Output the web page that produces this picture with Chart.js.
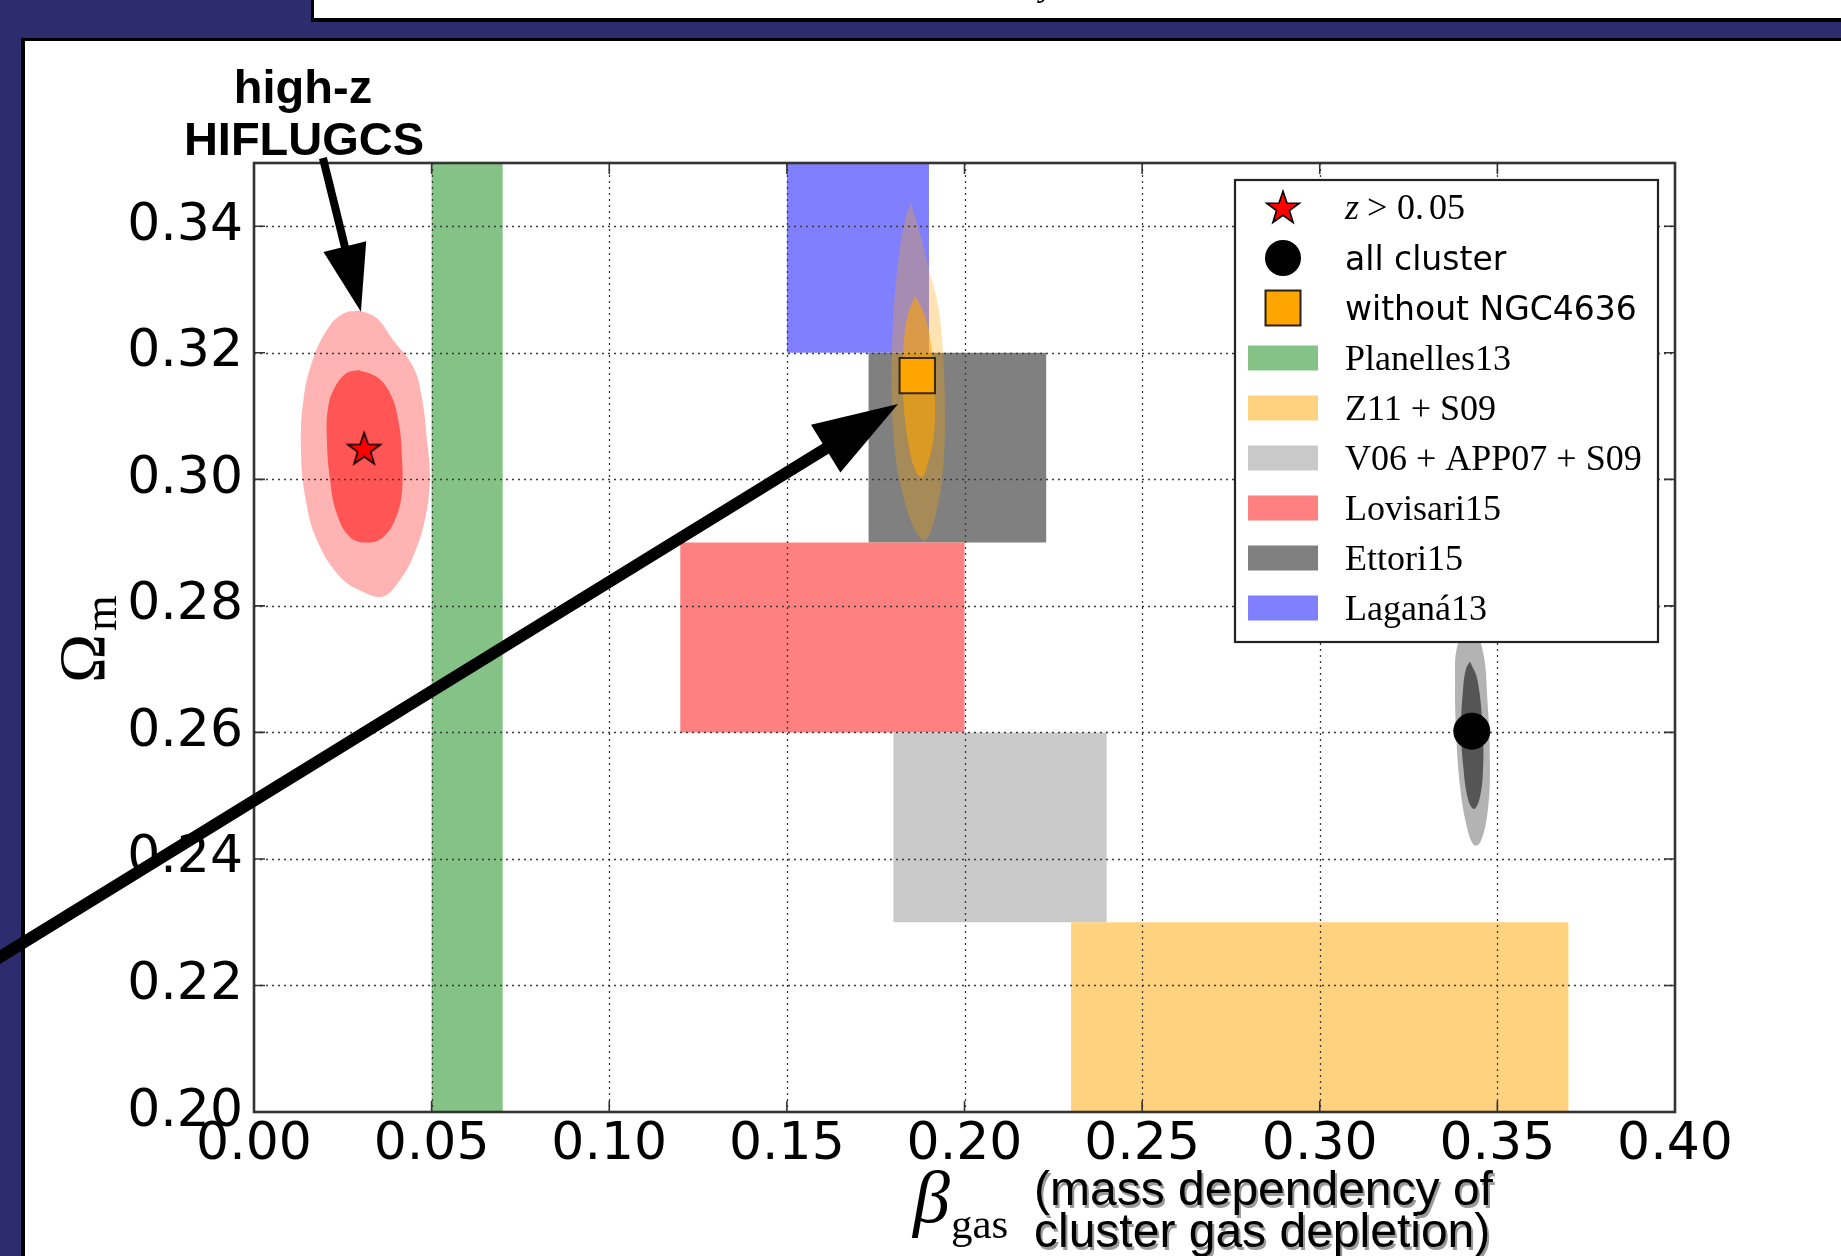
<!DOCTYPE html>
<html>
<head>
<meta charset="utf-8">
<script src="https://cdn.jsdelivr.net/npm/chart.js@4"></script>
<style>
    body { margin: 0; background: #2d2c6e; }
    canvas { display: block; }
</style>
</head>
<body>
<canvas id="omegaChart" width="1841" height="1256"></canvas>
<script>
// axis ranges and ticks
const betaRange = [0.0, 0.40];
const omegaRange = [0.20, 0.35];
const betaTicks = [0.00, 0.05, 0.10, 0.15, 0.20, 0.25, 0.30, 0.35, 0.40];
const omegaTicks = [0.20, 0.22, 0.24, 0.26, 0.28, 0.30, 0.32, 0.34];

// literature constraints (beta range, omega range)
const bandNames = ['Planelles13', 'Z11 + S09', 'V06 + APP07 + S09', 'Lovisari15', 'Ettori15', 'Laganá13'];
const bandBeta = [[0.05, 0.07], [0.23, 0.37], [0.18, 0.24], [0.12, 0.20], [0.173, 0.223], [0.15, 0.19]];
const bandOmega = [[0.20, 0.35], [0.20, 0.23], [0.23, 0.26], [0.26, 0.29], [0.29, 0.32], [0.32, 0.35]];
const bandColors = ['#85c285', '#ffd280', '#c9c9c9', '#ff8080', '#808080', '#8080ff'];

// best fit points
const pointNames = ['z > 0.05', 'all cluster', 'without NGC4636'];
const pointBeta = [0.0310, 0.3428, 0.1867];
const pointOmega = [0.3049, 0.2602, 0.3164];

// confidence contours, [beta, omega]
const highzOuter = [[0.0298, 0.3267], [0.0345, 0.3255], [0.0392, 0.3220], [0.0448, 0.3178], [0.0472, 0.3131],
    [0.0486, 0.3067], [0.0495, 0.2999], [0.0481, 0.2936], [0.0448, 0.2878], [0.0411, 0.2841], [0.0364, 0.2815],
    [0.0308, 0.2822], [0.0242, 0.2846], [0.0177, 0.2904], [0.0144, 0.2973], [0.0132, 0.3052], [0.0139, 0.3125],
    [0.0162, 0.3183], [0.0205, 0.3236], [0.0251, 0.3262]];
const highzInner = [[0.0294, 0.3173], [0.0345, 0.3162], [0.0383, 0.3136], [0.0406, 0.3094], [0.0416, 0.3041],
    [0.0416, 0.2978], [0.0397, 0.2936], [0.0364, 0.2909], [0.0322, 0.2900], [0.0270, 0.2909], [0.0233, 0.2946],
    [0.0214, 0.2999], [0.0205, 0.3067], [0.0209, 0.3115], [0.0228, 0.3146], [0.0261, 0.3168]];
const noNgcOuter = [[0.1849, 0.3436], [0.1875, 0.3389], [0.1903, 0.3326], [0.1926, 0.3273], [0.1939, 0.3204],
    [0.1945, 0.3099], [0.1940, 0.3020], [0.1922, 0.2952], [0.1889, 0.2904], [0.1861, 0.2920], [0.1828, 0.2973],
    [0.1804, 0.3046], [0.1795, 0.3152], [0.1800, 0.3257], [0.1814, 0.3347], [0.1833, 0.3410]];
const noNgcInner = [[0.1861, 0.3290], [0.1889, 0.3257], [0.1908, 0.3204], [0.1917, 0.3125], [0.1912, 0.3062],
    [0.1894, 0.3020], [0.1880, 0.3003], [0.1861, 0.3015], [0.1842, 0.3057], [0.1828, 0.3125], [0.1828, 0.3204],
    [0.1839, 0.3257]];
const allOuter = [[0.3420, 0.2770], [0.3456, 0.2736], [0.3472, 0.2651], [0.3479, 0.2546], [0.3472, 0.2472],
    [0.3451, 0.2425], [0.3434, 0.2422], [0.3414, 0.2451], [0.3395, 0.2514], [0.3384, 0.2599], [0.3381, 0.2678],
    [0.3387, 0.2736]];
const allInner = [[0.3423, 0.2712], [0.3444, 0.2683], [0.3459, 0.2599], [0.3459, 0.2535], [0.3449, 0.2493],
    [0.3434, 0.2479], [0.3418, 0.2493], [0.3404, 0.2546], [0.3398, 0.2609], [0.3404, 0.2672], [0.3412, 0.2701]];

// annotation arrows in data coordinates (tail, tip)
const arrowHighz = [[0.0194, 0.3508], [0.0301, 0.3265]];
const arrowNoNgc = [[-0.075, 0.2233], [0.1813, 0.3119]];

const SERIF = '"Liberation Serif", "DejaVu Serif", serif';
const SANS = '"DejaVu Sans", sans-serif';
const ARIAL = '"Liberation Sans", Arial, sans-serif';

function makeStar(size) {
    const c = document.createElement('canvas');
    c.width = size;
    c.height = size;
    const g = c.getContext('2d');
    const m = size / 2;
    g.beginPath();
    for (let i = 0; i < 10; i++) {
        const r = i % 2 === 0 ? size * 0.43 : size * 0.17;
        const a = -Math.PI / 2 + i * Math.PI / 5;
        g.lineTo(m + r * Math.cos(a), m + 1.5 + r * Math.sin(a));
    }
    g.closePath();
    g.fillStyle = '#ff0000';
    g.fill();
    g.lineWidth = 1.6;
    g.strokeStyle = '#000';
    g.stroke();
    return c;
}

const starImg = makeStar(40);

function closedShape(pts) {
    return pts.concat([pts[0]]).map(p => ({ x: p[0], y: p[1] }));
}

function shapeDataset(pts, color, order, tension) {
    return {
        data: closedShape(pts),
        showLine: true,
        fill: 'shape',
        backgroundColor: color,
        borderColor: 'transparent',
        borderWidth: 0,
        pointRadius: 0,
        tension: tension,
        order: order
    };
}

const datasets = [];

// markers first so they sit on top
datasets.push({
    label: pointNames[0], marker: true,
    data: [{ x: pointBeta[0], y: pointOmega[0] }],
    pointStyle: starImg, pointRadius: 20, order: 0
});
datasets.push({
    label: pointNames[1], marker: true,
    data: [{ x: pointBeta[1], y: pointOmega[1] }],
    pointStyle: 'circle', pointRadius: 18, backgroundColor: '#000', borderColor: '#000', borderWidth: 1, order: 0
});
datasets.push({
    label: pointNames[2], marker: true,
    data: [{ x: pointBeta[2], y: pointOmega[2] }],
    pointStyle: 'rect', pointRadius: 25, backgroundColor: '#ffa500', borderColor: 'rgba(0,0,0,0.75)', borderWidth: 2, order: 0
});

// contours
datasets.push(shapeDataset(highzInner, '#ff5555', 2, 0.4));
datasets.push(shapeDataset(highzOuter, '#ffb3b3', 3, 0.4));
datasets.push(shapeDataset(noNgcInner, 'rgba(255,165,0,0.6)', 2, 0.4));
datasets.push(shapeDataset(noNgcOuter, 'rgba(255,165,0,0.3)', 3, 0.4));
datasets.push(shapeDataset(allInner, '#555555', 2, 0.4));
datasets.push(shapeDataset(allOuter, '#b3b3b3', 3, 0.4));

// literature bands
bandNames.forEach((name, i) => {
    const b = bandBeta[i];
    const o = bandOmega[i];
    const ds = shapeDataset([[b[0], o[0]], [b[1], o[0]], [b[1], o[1]], [b[0], o[1]]], bandColors[i], 4, 0);
    ds.label = name;
    datasets.push(ds);
});

let gridDone = false;

function drawGrid(chart) {
    const ctx = chart.ctx;
    const ca = chart.chartArea;
    const xs = chart.scales.x;
    const ys = chart.scales.y;
    ctx.save();
    ctx.strokeStyle = '#3a3a3a';
    ctx.lineWidth = 1.3;
    ctx.setLineDash([2, 4]);
    betaTicks.slice(1, -1).forEach(v => {
        const px = Math.round(xs.getPixelForValue(v)) + 0.5;
        ctx.beginPath();
        ctx.moveTo(px, ca.top);
        ctx.lineTo(px, ca.bottom);
        ctx.stroke();
    });
    omegaTicks.slice(1).forEach(v => {
        const py = Math.round(ys.getPixelForValue(v)) + 0.5;
        ctx.beginPath();
        ctx.moveTo(ca.left, py);
        ctx.lineTo(ca.right, py);
        ctx.stroke();
    });
    ctx.restore();
}

function drawFrame(chart) {
    const ctx = chart.ctx;
    const ca = chart.chartArea;
    const xs = chart.scales.x;
    const ys = chart.scales.y;
    ctx.save();
    ctx.strokeStyle = '#333';
    ctx.lineWidth = 1.6;
    const tl = 11;
    betaTicks.forEach(v => {
        const px = xs.getPixelForValue(v);
        ctx.beginPath();
        ctx.moveTo(px, ca.bottom); ctx.lineTo(px, ca.bottom - tl);
        ctx.moveTo(px, ca.top); ctx.lineTo(px, ca.top + tl);
        ctx.stroke();
    });
    omegaTicks.forEach(v => {
        const py = ys.getPixelForValue(v);
        ctx.beginPath();
        ctx.moveTo(ca.left, py); ctx.lineTo(ca.left + tl, py);
        ctx.moveTo(ca.right, py); ctx.lineTo(ca.right - tl, py);
        ctx.stroke();
    });
    ctx.lineWidth = 2.6;
    ctx.strokeRect(ca.left, ca.top, ca.right - ca.left, ca.bottom - ca.top);
    ctx.restore();
}

function drawLegend(chart) {
    const ctx = chart.ctx;
    const ca = chart.chartArea;
    const box = { x: ca.right - 440, y: ca.top + 17, w: 423, h: 462 };
    ctx.save();
    ctx.fillStyle = '#fff';
    ctx.fillRect(box.x, box.y, box.w, box.h);
    ctx.strokeStyle = '#222';
    ctx.lineWidth = 2.2;
    ctx.strokeRect(box.x, box.y, box.w, box.h);

    const mx = box.x + 48;
    const tx = box.x + 110;
    ctx.textBaseline = 'alphabetic';
    ctx.fillStyle = '#000';

    // rows: three markers then the six bands
    for (let i = 0; i < 9; i++) {
        const cy = box.y + 28 + i * 50;
        if (i === 0) {
            ctx.drawImage(starImg, mx - 20, cy - 21);
            ctx.fillStyle = '#000';
            ctx.font = 'italic 36px ' + SERIF;
            ctx.fillText('z', tx, cy + 11);
            ctx.font = '36px ' + SERIF;
            ctx.fillText('>', tx + 22, cy + 11);
            ctx.fillText('0.', tx + 52, cy + 11);
            ctx.fillText('05', tx + 84, cy + 11);
        } else if (i === 1) {
            ctx.beginPath();
            ctx.arc(mx, cy, 18, 0, Math.PI * 2);
            ctx.fillStyle = '#000';
            ctx.fill();
            ctx.font = '33px ' + SANS;
            ctx.fillText(pointNames[1], tx, cy + 12);
        } else if (i === 2) {
            ctx.fillStyle = '#ffa500';
            ctx.fillRect(mx - 17.5, cy - 17.5, 35, 35);
            ctx.strokeStyle = 'rgba(0,0,0,0.85)';
            ctx.lineWidth = 2;
            ctx.strokeRect(mx - 17.5, cy - 17.5, 35, 35);
            ctx.fillStyle = '#000';
            ctx.font = '33px ' + SANS;
            ctx.fillText(pointNames[2], tx, cy + 12);
        } else {
            const k = i - 3;
            ctx.fillStyle = bandColors[k];
            ctx.fillRect(box.x + 13, cy - 12.5, 70, 25);
            ctx.fillStyle = '#000';
            ctx.font = '36px ' + SERIF;
            ctx.fillText(bandNames[k], tx, cy + 12);
        }
    }
    ctx.restore();
}

function drawArrow(chart, arrow, width, headLen, headHalf) {
    const ctx = chart.ctx;
    const xs = chart.scales.x;
    const ys = chart.scales.y;
    const x0 = xs.getPixelForValue(arrow[0][0]);
    const y0 = ys.getPixelForValue(arrow[0][1]);
    const x1 = xs.getPixelForValue(arrow[1][0]);
    const y1 = ys.getPixelForValue(arrow[1][1]);
    const len = Math.hypot(x1 - x0, y1 - y0);
    const ux = (x1 - x0) / len;
    const uy = (y1 - y0) / len;
    const bx = x1 - ux * headLen;
    const by = y1 - uy * headLen;
    ctx.save();
    ctx.strokeStyle = '#000';
    ctx.fillStyle = '#000';
    ctx.lineWidth = width;
    ctx.beginPath();
    ctx.moveTo(x0, y0);
    ctx.lineTo(bx + ux * 4, by + uy * 4);
    ctx.stroke();
    ctx.beginPath();
    ctx.moveTo(x1, y1);
    ctx.lineTo(bx - uy * headHalf, by + ux * headHalf);
    ctx.lineTo(bx + uy * headHalf, by - ux * headHalf);
    ctx.closePath();
    ctx.fill();
    ctx.restore();
}

function drawLabels(chart) {
    const ctx = chart.ctx;
    ctx.save();
    ctx.fillStyle = '#000';

    // high-z note
    ctx.font = 'bold 47px ' + ARIAL;
    ctx.textAlign = 'center';
    ctx.fillText('high-z', 303, 103);
    ctx.fillText('HIFLUGCS', 304, 155);

    // y label: Omega_m, rotated
    ctx.textAlign = 'left';
    ctx.save();
    ctx.translate(104, 683);
    ctx.rotate(-Math.PI / 2);
    ctx.font = '66px ' + SERIF;
    ctx.fillText('Ω', 0, 0);
    const ow = ctx.measureText('Ω').width;
    ctx.font = '46px ' + SERIF;
    ctx.fillText('m', ow + 3, 12);
    ctx.restore();

    // x label: beta_gas
    ctx.font = 'italic 74px ' + SERIF;
    ctx.fillText('β', 913, 1222);
    ctx.font = '43px ' + SERIF;
    ctx.fillText('gas', 951, 1238);

    // explanation with a soft shadow
    ctx.font = '48px ' + ARIAL;
    const lines = ['(mass dependency of', 'cluster gas depletion)'];
    const base = [1205, 1247];
    lines.forEach((t, i) => {
        ctx.fillStyle = '#9a9a9a';
        ctx.fillText(t, 1036, base[i] + 3);
        ctx.fillStyle = '#000';
        ctx.fillText(t, 1034, base[i]);
    });
    ctx.restore();
}

const pagePlugin = {
    id: 'page',
    beforeDraw(chart) {
        const ctx = chart.ctx;
        const W = chart.width;
        const H = chart.height;
        gridDone = false;
        ctx.save();
        ctx.fillStyle = '#2d2c6e';
        ctx.fillRect(0, 0, W, H);
        // slide title box cut at the top
        ctx.fillStyle = '#000';
        ctx.fillRect(311, 0, W - 311, 22);
        ctx.fillStyle = '#fff';
        ctx.fillRect(314, 0, W - 314, 18);
        ctx.fillStyle = '#000';
        ctx.font = 'italic 34px ' + SERIF;
        ctx.fillText('y', 1040, -4);
        // white panel holding the figure
        ctx.fillStyle = '#000';
        ctx.fillRect(21, 38, W - 21, H - 38);
        ctx.fillStyle = '#fff';
        ctx.fillRect(25, 41, W - 25, H - 41);
        ctx.restore();
    },
    beforeDatasetDraw(chart, args) {
        // grid goes above the shaded regions but under the markers
        if (!gridDone && chart.data.datasets[args.index].marker) {
            drawGrid(chart);
            gridDone = true;
        }
    },
    afterDatasetsDraw(chart) {
        if (!gridDone) {
            drawGrid(chart);
            gridDone = true;
        }
        drawFrame(chart);
    },
    afterDraw(chart) {
        drawLegend(chart);
        drawLabels(chart);
        drawArrow(chart, arrowHighz, 8, 67, 22);
        drawArrow(chart, arrowNoNgc, 12, 85, 28);
    }
};

const ctx = document.getElementById('omegaChart').getContext('2d');
const omegaChart = new Chart(ctx, {
    type: 'scatter',
    data: { datasets: datasets },
    options: {
        responsive: false,
        animation: false,
        devicePixelRatio: 1,
        events: [],
        layout: { padding: { left: 0, top: 163, right: 166, bottom: 0 } },
        plugins: {
            legend: { display: false },
            tooltip: { enabled: false }
        },
        scales: {
            x: {
                type: 'linear',
                min: betaRange[0],
                max: betaRange[1],
                grid: { display: false, drawTicks: false },
                border: { display: false },
                afterBuildTicks: scale => { scale.ticks = betaTicks.map(v => ({ value: v })); },
                afterFit: scale => { scale.height = 144; },
                ticks: {
                    autoSkip: false,
                    maxRotation: 0,
                    padding: 2,
                    color: '#000',
                    font: { family: 'DejaVu Sans', size: 52 },
                    callback: v => v.toFixed(2)
                }
            },
            y: {
                type: 'linear',
                min: omegaRange[0],
                max: omegaRange[1],
                grid: { display: false, drawTicks: false },
                border: { display: false },
                afterBuildTicks: scale => { scale.ticks = omegaTicks.map(v => ({ value: v })); },
                afterFit: scale => { scale.width = 254; },
                ticks: {
                    autoSkip: false,
                    padding: 11,
                    color: '#000',
                    font: { family: 'DejaVu Sans', size: 52 },
                    callback: v => v.toFixed(2)
                }
            }
        }
    },
    plugins: [pagePlugin]
});
</script>
</body>
</html>
